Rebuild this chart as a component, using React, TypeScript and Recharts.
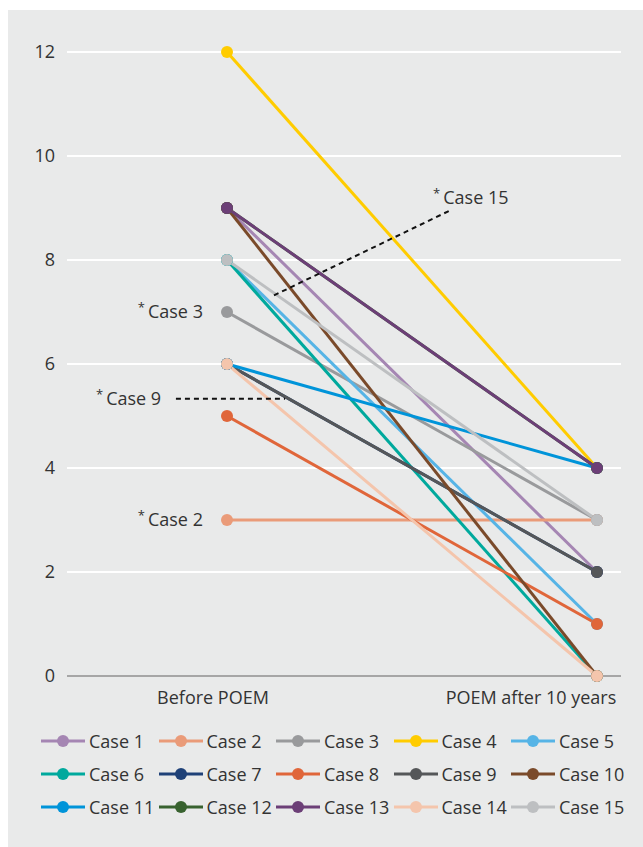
import React from 'react';
import { LineChart, Line, XAxis, YAxis, CartesianGrid, Legend, ReferenceLine, ReferenceDot } from 'recharts';

const caseNames = ['Case 1', 'Case 2', 'Case 3', 'Case 4', 'Case 5', 'Case 6', 'Case 7', 'Case 8', 'Case 9', 'Case 10', 'Case 11', 'Case 12', 'Case 13', 'Case 14', 'Case 15'];
const beforeValues = [9, 3, 7, 12, 8, 8, 6, 5, 6, 9, 6, 9, 9, 6, 8];
const afterValues = [2, 3, 3, 4, 1, 0, 2, 1, 2, 0, 4, 4, 4, 0, 3];
const caseColors = ['#a586b3', '#ea9b79', '#999a9c', '#ffcc00', '#56b4e6', '#00a99d', '#1f4178', '#e0663a', '#555759', '#7a4a2a', '#0094d9', '#38622f', '#6c3f77', '#f4c5ac', '#bdbfc1'];
const timepoints = [0, 1];
const timepointLabels = ['Before POEM', 'POEM after 10 years'];
const yTicks = [0, 2, 4, 6, 8, 10, 12];

const annotationLabels = ['Case 2', 'Case 3', 'Case 9', 'Case 15'];
const annotationX = [-0.065, -0.065, -0.178, 0.557];
const annotationY = [3, 7, 5.33, 9.2];
const annotationAnchor = ['end', 'end', 'end', 'start'];

const pointerFromX = [0.127, -0.138];
const pointerFromY = [7.32, 5.33];
const pointerToX = [0.605, 0.157];
const pointerToY = [8.96, 5.33];

const data = timepoints.map((t, i) => {
  const row: any = { t };
  caseNames.forEach((n, k) => {
    row[n] = i === 0 ? beforeValues[k] : afterValues[k];
  });
  return row;
});

const FONT = "'Liberation Sans Narrow', 'Arial Narrow', 'Open Sans', sans-serif";
const FS = 18;
const TXT = '#333';
const tickShift = [-14, -66];

const XTick = (props: any) => {
  const { x, y, payload, index } = props;
  const i = timepoints.indexOf(payload.value);
  return (
    <text x={x + tickShift[i >= 0 ? i : index]} y={y + 20} textAnchor="middle" fill={TXT} fontSize={FS} fontFamily={FONT}>
      {timepointLabels[i >= 0 ? i : index]}
    </text>
  );
};

const renderLegend = (props: any) => {
  const payload = [...(props.payload || [])].sort(
    (a: any, b: any) => caseNames.indexOf(a.value) - caseNames.indexOf(b.value)
  );
  return (
    <div style={{ position: 'relative', width: 635, height: 100 }}>
      {payload.map((entry: any, i: number) => {
        const col = i % 5;
        const row = Math.floor(i / 5);
        return (
          <div
            key={entry.value}
            style={{ position: 'absolute', left: 33 + col * 117.5, top: row * 33, height: 20, display: 'flex', alignItems: 'center' }}
          >
            <svg width={44} height={14} style={{ display: 'block' }}>
              <line x1={0} y1={7} x2={44} y2={7} stroke={entry.color} strokeWidth={3} />
              <circle cx={22} cy={7} r={6} fill={entry.color} />
            </svg>
            <span style={{ marginLeft: 4, fontSize: FS, color: TXT, fontFamily: FONT, lineHeight: '20px' }}>{entry.value}</span>
          </div>
        );
      })}
    </div>
  );
};

const makeLabel = (k: number) => (p: any) => (
  <text x={p.cx} y={p.cy + 6} textAnchor={annotationAnchor[k] as any} fill={TXT} fontFamily={FONT} fontSize={FS}>
    <tspan fontSize={13} dy={-6}>*</tspan>
    <tspan dy={6} dx={3}>{annotationLabels[k]}</tspan>
  </text>
);

export default function App() {
  return (
    <div style={{ position: 'absolute', left: 8, top: 10, width: 635, height: 837, background: '#e9eaea', fontFamily: FONT }}>
      <LineChart width={635} height={837} data={data} margin={{ top: 42, right: 22, left: 0, bottom: 41 }}>
        <CartesianGrid vertical={false} stroke="#ffffff" strokeWidth={2} />
        <XAxis
          type="number"
          dataKey="t"
          domain={[-0.4324, 1.0649]}
          ticks={timepoints}
          allowDataOverflow
          axisLine={{ stroke: '#a6a6a6', strokeWidth: 2 }}
          tickLine={false}
          tick={<XTick />}
          height={30}
        />
        <YAxis
          domain={[0, 12]}
          ticks={yTicks}
          axisLine={false}
          tickLine={false}
          width={59}
          tickMargin={6}
          tick={{ fill: TXT, fontSize: FS, fontFamily: FONT }}
        />
        {caseNames.map((n, k) => (
          <Line
            key={n}
            dataKey={n}
            name={n}
            stroke={caseColors[k]}
            strokeWidth={3}
            dot={{ r: 6, fill: caseColors[k], stroke: 'none' }}
            activeDot={false}
            isAnimationActive={false}
          />
        ))}
        {pointerFromX.map((fx, k) => (
          <ReferenceLine
            key={'p' + k}
            segment={[{ x: fx, y: pointerFromY[k] }, { x: pointerToX[k], y: pointerToY[k] }]}
            stroke="#111"
            strokeWidth={2}
            strokeDasharray="5 4"
          />
        ))}
        {annotationLabels.map((l, k) => (
          <ReferenceDot key={l} x={annotationX[k]} y={annotationY[k]} r={0} shape={makeLabel(k)} />
        ))}
        <Legend content={renderLegend} wrapperStyle={{ top: 721, bottom: 'auto', left: 0, width: 635 }} />
      </LineChart>
    </div>
  );
}
